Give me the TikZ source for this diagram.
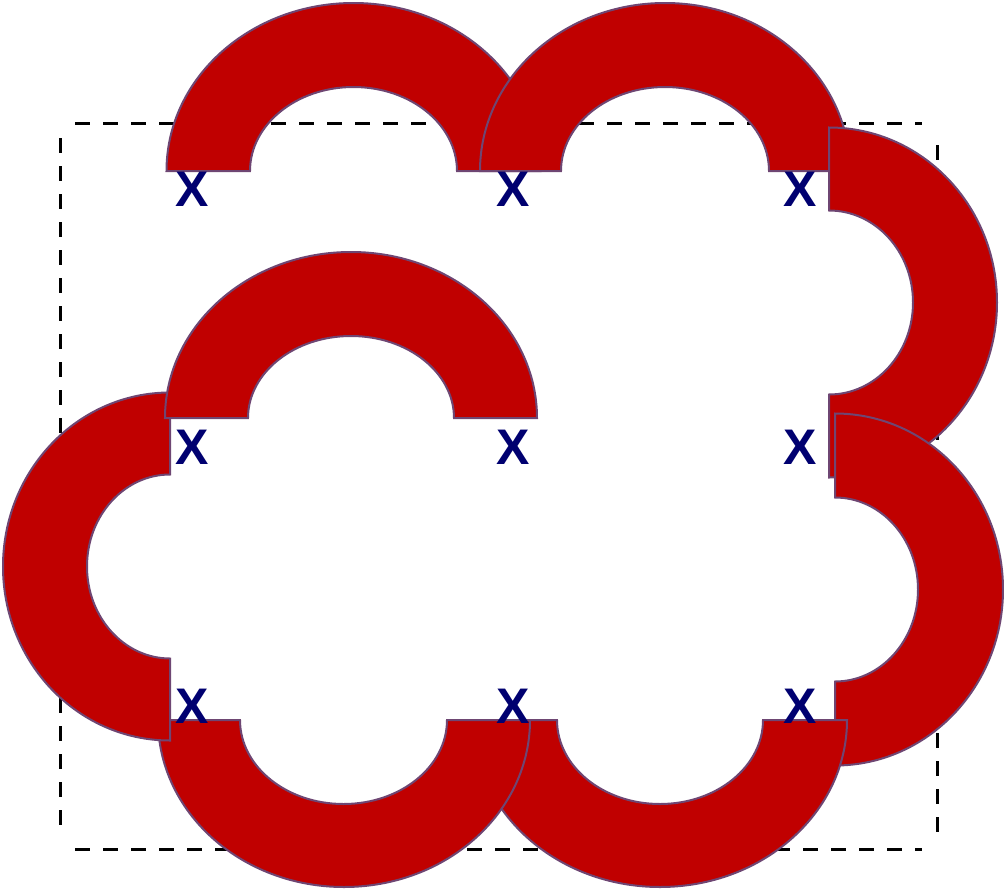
\documentclass[tikz,border=0pt]{standalone}
\usepackage{fontspec}
\newfontfamily\lblfont{Liberation Sans}
\definecolor{arcred}{RGB}{192,0,0}
\definecolor{arcedge}{RGB}{110,70,115}
\definecolor{lblblue}{RGB}{0,0,112}

\begin{document}
\begin{tikzpicture}[x=1pt,y=-1pt,
 blockarc/.style={fill=arcred,draw=arcedge,line width=2pt,line join=miter},
 guide/.style={draw=black,line width=3pt,dash pattern=on 15pt off 13pt},
 lbl/.style={font={\lblfont\bfseries\fontsize{50}{50}\selectfont},text=lblblue,inner sep=0pt}]
\useasboundingbox (0,0) rectangle (1004,889);

% dashed frame, four loose sides
\draw[guide] (75,123) -- (922,123);
\draw[guide] (75,849) -- (922,849);
\draw[guide] (60,138) -- (60,830);
\draw[guide] (937,145) -- (937,835);

% block arcs, drawn round the ring
\draw[blockarc] (166.5,171) arc[start angle=180,end angle=0,x radius=187pt,y radius=168pt]
 -- (457,171) arc[start angle=0,end angle=180,x radius=103.5pt,y radius=84pt] -- cycle;
\draw[blockarc] (480,171) arc[start angle=180,end angle=0,x radius=185pt,y radius=168pt]
 -- (769,171) arc[start angle=0,end angle=180,x radius=104pt,y radius=84pt] -- cycle;
\draw[blockarc] (829,127.5) arc[start angle=90,end angle=-90,x radius=168pt,y radius=175pt]
 -- (829,394.5) arc[start angle=-90,end angle=90,x radius=84pt,y radius=92pt] -- cycle;
\draw[blockarc] (835,413.5) arc[start angle=90,end angle=-90,x radius=168pt,y radius=176pt]
 -- (835,681.5) arc[start angle=-90,end angle=90,x radius=83pt,y radius=92pt] -- cycle;
\draw[blockarc] (473,720) arc[start angle=180,end angle=360,x radius=187pt,y radius=167pt]
 -- (763,720) arc[start angle=0,end angle=-180,x radius=103pt,y radius=84pt] -- cycle;
\draw[blockarc] (158,720) arc[start angle=180,end angle=360,x radius=186pt,y radius=167pt]
 -- (447,720) arc[start angle=0,end angle=-180,x radius=103.5pt,y radius=84pt] -- cycle;
\draw[blockarc] (170,392.5) arc[start angle=90,end angle=270,x radius=167pt,y radius=174pt]
 -- (170,658.5) arc[start angle=270,end angle=90,x radius=83pt,y radius=92pt] -- cycle;
\draw[blockarc] (165,418) arc[start angle=180,end angle=0,x radius=186pt,y radius=166pt]
 -- (454,418) arc[start angle=0,end angle=180,x radius=103pt,y radius=82pt] -- cycle;

% marks
\node[lbl] (mark11) at (192,189) {X};
\node[lbl] (mark12) at (513,189) {X};
\node[lbl] (mark13) at (800,189) {X};
\node[lbl] (mark21) at (192,447) {X};
\node[lbl] (mark22) at (513,447) {X};
\node[lbl] (mark23) at (800,447) {X};
\node[lbl] (mark31) at (192,706) {X};
\node[lbl] (mark32) at (513,706) {X};
\node[lbl] (mark33) at (800,706) {X};
\end{tikzpicture}
\end{document}
